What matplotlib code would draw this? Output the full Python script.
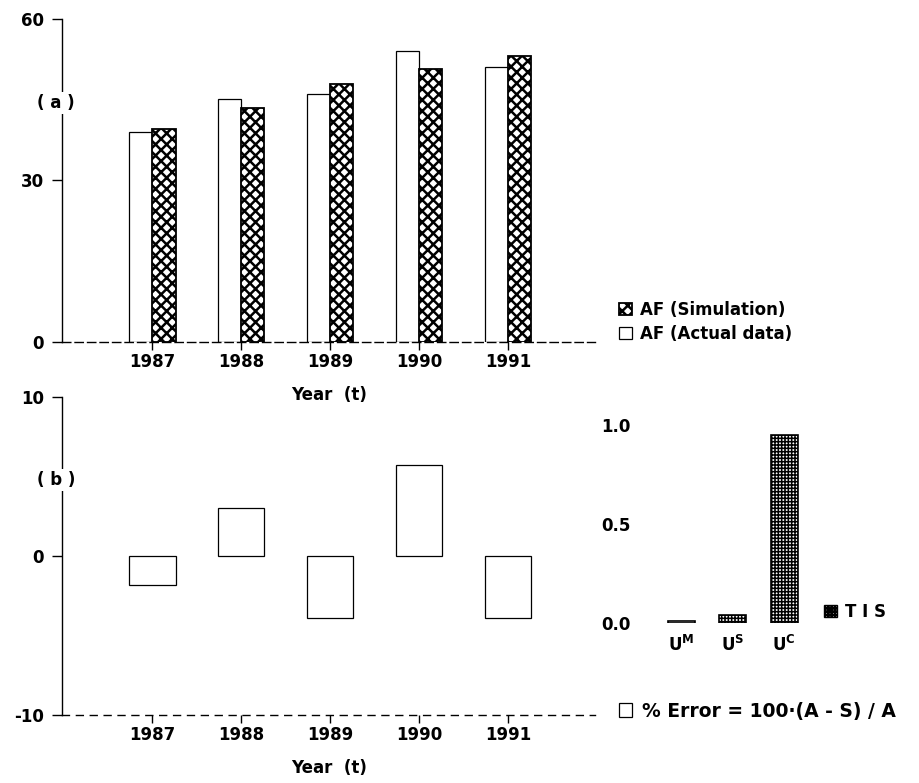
import matplotlib
matplotlib.use('Agg')
import matplotlib.pyplot as plt
from matplotlib.patches import Patch
import numpy as np

# ---------------- data ----------------
years = ['1987', '1988', '1989', '1990', '1991']
af_actual = [39.0, 45.1, 46.1, 54.1, 51.1]
af_simulation = [39.5, 43.5, 48.0, 50.7, 53.1]
pct_error = [-1.8, 3.0, -3.9, 5.7, -3.9]
tis_labels = [r'$\mathbf{U}^{\mathbf{M}}$', r'$\mathbf{U}^{\mathbf{S}}$', r'$\mathbf{U}^{\mathbf{C}}$']
tis_values = [0.01, 0.04, 0.95]

plt.rcParams['font.family'] = ['DejaVu Sans']
plt.rcParams['font.weight'] = 'bold'
plt.rcParams['axes.labelweight'] = 'bold'
plt.rcParams['font.size'] = 12
plt.rcParams['axes.unicode_minus'] = False
plt.rcParams['mathtext.fontset'] = 'custom'
plt.rcParams['mathtext.bf'] = 'DejaVu Sans:bold'
plt.rcParams['hatch.linewidth'] = 1.8

W, H = 919, 783
fig = plt.figure(figsize=(W / 100, H / 100), dpi=100)


def rect(l, t, r, b):
    return [l / W, 1 - b / H, (r - l) / W, (b - t) / H]


def set_hlw(patches, lw):
    for p in patches:
        try:
            p.set_hatch_linewidth(lw)
        except AttributeError:
            pass


x = np.arange(len(years))
bw = 0.26

# ---------------- (a) ----------------
ax1 = fig.add_axes(rect(62.3, 19, 595, 341.7))
b_act = ax1.bar(x - bw / 2, af_actual, bw, facecolor='white', edgecolor='black',
                linewidth=0.9, label='AF (Actual data)', zorder=2)
b_sim = ax1.bar(x + bw / 2, af_simulation, bw, facecolor='white', edgecolor='black',
                hatch='xxx', linewidth=1.3, label='AF (Simulation)', zorder=2)
set_hlw(b_sim, 1.8)
ax1.set_xlim(-1.015, 4.98)
ax1.set_ylim(0, 60)
ax1.set_yticks([0, 30, 60])
ax1.set_xticks(x)
ax1.set_xticklabels(years)
ax1.set_xlabel('Year  (t)', labelpad=11, fontweight='bold')
for s in ['top', 'right']:
    ax1.spines[s].set_visible(False)
ax1.spines['left'].set_linewidth(1.0)
ax1.spines['bottom'].set_linewidth(1.0)
ax1.spines['bottom'].set_linestyle((0, (6, 3)))
ax1.tick_params(axis='y', direction='out', length=7, width=1, pad=6)
ax1.tick_params(axis='x', direction='out', length=6, width=1, pad=2)
ax1.patch.set_visible(False)

leg1 = ax1.legend(handles=[b_sim, b_act], loc='upper left',
                  bbox_to_anchor=(619 / W, 1 - 301 / H), bbox_transform=fig.transFigure,
                  frameon=False, borderaxespad=0, borderpad=0,
                  handlelength=0.75, handleheight=0.75, handletextpad=0.5,
                  labelspacing=0.35)

fig.text(56 / W, 1 - 103 / H, '( a )', ha='center', va='center',
         bbox=dict(facecolor='white', edgecolor='none', pad=1.5))

# ---------------- (b) ----------------
ax2 = fig.add_axes(rect(62.3, 397, 595, 715))
b_err = ax2.bar(x, pct_error, 2 * bw, facecolor='white', edgecolor='black',
                linewidth=0.9, label='% Error = 100·(A - S) / A')
ax2.set_xlim(-1.015, 4.98)
ax2.set_ylim(-10, 10)
ax2.set_yticks([-10, 0, 10])
ax2.set_xticks(x)
ax2.set_xticklabels(years)
ax2.set_xlabel('Year  (t)', labelpad=11, fontweight='bold')
for s in ['top', 'right']:
    ax2.spines[s].set_visible(False)
ax2.spines['left'].set_linewidth(1.0)
ax2.spines['bottom'].set_linewidth(1.0)
ax2.spines['bottom'].set_linestyle((0, (5, 5)))
ax2.tick_params(axis='y', direction='out', length=7, width=1, pad=6)
ax2.tick_params(axis='x', direction='out', length=6, width=1, pad=2)
ax2.patch.set_visible(False)

fig.text(56 / W, 1 - 480 / H, '( b )', ha='center', va='center',
         bbox=dict(facecolor='white', edgecolor='none', pad=1.5))

fig.legend(handles=[b_err], loc='center left',
           bbox_to_anchor=(619 / W, 1 - 711 / H), frameon=False,
           borderaxespad=0, borderpad=0, handlelength=0.7, handleheight=0.7,
           handletextpad=0.5, fontsize=13.5)

# ---------------- TIS inset ----------------
ax3 = fig.add_axes(rect(640, 425, 810, 622.5))
xt = np.arange(len(tis_values))
b_tis = ax3.bar(xt, tis_values, 0.53, facecolor='white', edgecolor='black', linewidth=1.2)
for i, p in enumerate(b_tis):
    if i > 0:
        p.set_hatch('+++++')
set_hlw(b_tis, 1.1)
ax3.set_xlim(-0.8, 2.5)
ax3.set_ylim(0, 1.0)
ax3.set_yticks([0, 0.5, 1.0])
ax3.set_yticklabels(['0.0', '0.5', '1.0'])
ax3.set_xticks(xt)
ax3.set_xticklabels(tis_labels)
for s in ax3.spines.values():
    s.set_visible(False)
ax3.tick_params(axis='y', length=0, pad=7)
ax3.tick_params(axis='x', length=0, pad=9)
ax3.patch.set_visible(False)

tis_handle = Patch(facecolor='white', edgecolor='black', hatch='+++++', linewidth=1.0, label='T I S')
set_hlw([tis_handle], 1.1)
fig.legend(handles=[tis_handle], loc='center left',
           bbox_to_anchor=(824 / W, 1 - 612 / H), frameon=False,
           borderaxespad=0, borderpad=0, handlelength=0.75, handleheight=0.75,
           handletextpad=0.5)

fig.savefig('out.png', dpi=100)
